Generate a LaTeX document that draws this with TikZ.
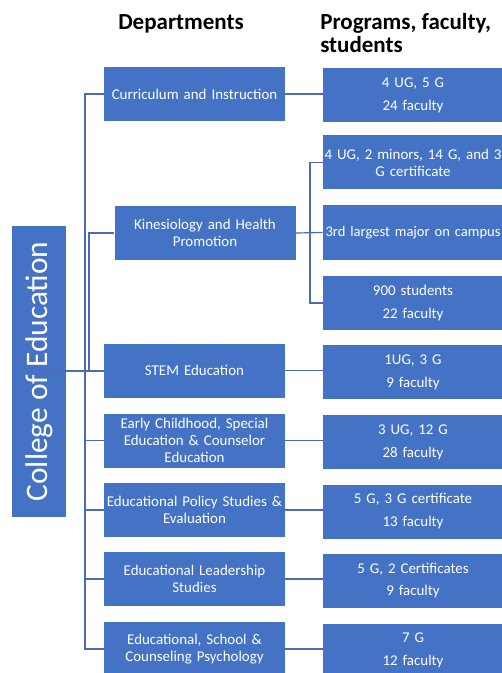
\documentclass[tikz,border=0pt]{standalone}
\usepackage{fontspec}
\setmainfont{Carlito}
\definecolor{officeblue}{HTML}{4472C4}
\definecolor{linkblue}{HTML}{4A6CB8}

\begin{document}
\begin{tikzpicture}[x=0.75pt,y=-0.75pt,
  box/.style={fill=officeblue,text=white,inner sep=0pt,align=center,
    font=\fontsize{11.2}{12.7}\selectfont},
  dept/.style={box,minimum width=135.75pt,minimum height=40.5pt,text width=135pt},
  prog/.style={box,minimum width=135pt,minimum height=40.5pt,text width=134pt},
  head/.style={inner sep=0pt,font=\fontsize{17.25}{17.25}\selectfont\bfseries},
  link/.style={draw=linkblue,line width=0.9pt}]
\useasboundingbox (0,0) rectangle (502,673);
\clip (0,0) rectangle (502,673);

\node[head,anchor=base] (hdept) at (181,30) {Departments};
\node[head,anchor=north west,align=left] (hprog) at (320,13) {Programs, faculty,\\students};

\node[box,minimum width=218.25pt,minimum height=40.5pt,rotate=90,
  font=\fontsize{23.5}{23.5}\selectfont] (coll) at (39,371.5) {College of Education};

\node[dept] (cur) at (194.5,94) {Curriculum and Instruction};
\node[dept] (kin) at (205,233) {Kinesiology and Health\\Promotion};
\node[dept] (stem) at (194.5,370.5) {STEM Education};
\node[dept] (early) at (194.5,440.5) {Early Childhood, Special\\Education \& Counselor\\Education};
\node[dept] (policy) at (194.5,510) {Educational Policy Studies \&\\Evaluation};
\node[dept] (lead) at (194.5,579) {Educational Leadership\\Studies};
\node[dept] (school) at (194.5,649) {Educational, School \&\\Counseling Psychology};

\node[prog] (pcur) at (413,95.5) {4 UG, 5 G\\[4.5pt]24 faculty};
\node[prog] (pkina) at (413,162.5) {\makebox[\linewidth]{4 UG, 2 minors, 14 G, and 3}\\G certificate};
\node[prog] (pkinb) at (413,232.5) {\makebox[\linewidth]{\fontsize{10.9}{12.7}\selectfont 3rd largest major on campus}};
\node[prog] (pkinc) at (413,303) {900 students\\[4.5pt]22 faculty};
\node[prog] (pstem) at (413,372) {1UG, 3 G\\[4.5pt]9 faculty};
\node[prog] (pearly) at (413,442) {3 UG, 12 G\\[4.5pt]28 faculty};
\node[prog] (ppolicy) at (413,511.5) {5 G, 3 G certificate\\[4.5pt]13 faculty};
\node[prog] (plead) at (413,580.5) {5 G, 2 Certificates\\[4.5pt]9 faculty};
\node[prog] (pschool) at (413,650.5) {7 G\\[4.5pt]12 faculty};

\coordinate (trunk) at (85,371);
\coordinate (kintrunk) at (89,371);
\coordinate (kinfork) at (310,233);

\path[link] (coll.east |- trunk) edge (stem.west |- trunk);
\draw[link] (trunk) |- (cur.west);
\draw[link] (trunk) |- (early.west);
\draw[link] (trunk) |- (policy.west);
\draw[link] (trunk) |- (lead.west);
\draw[link] (trunk) |- (school.west);
\draw[link] (kintrunk) |- (kin.west);

\path[link] (cur.east) edge (pcur.west |- cur.east);
\path[link] (kin.east) edge (pkinb.west);
\draw[link] (kinfork) |- (pkina.west);
\draw[link] (kinfork) |- (pkinc.west);
\path[link] (stem.east) edge (pstem.west |- stem.east);
\path[link] (early.east) edge (pearly.west |- early.east);
\path[link] (policy.east) edge (ppolicy.west |- policy.east);
\path[link] (lead.east) edge (plead.west |- lead.east);
\path[link] (school.east) edge (pschool.west |- school.east);
\end{tikzpicture}
\end{document}
